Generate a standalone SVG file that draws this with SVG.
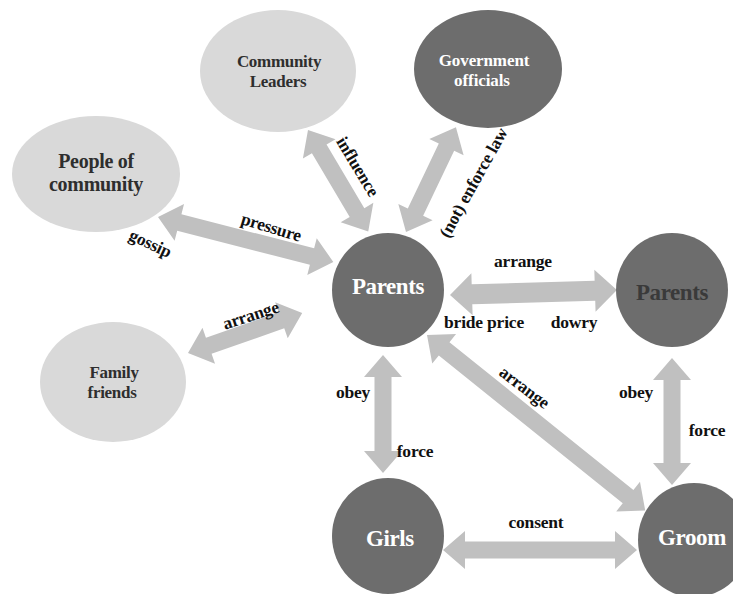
<svg xmlns="http://www.w3.org/2000/svg" width="733" height="594" viewBox="0 0 733 594" font-family="'Liberation Serif', serif">
<style>
.light{fill:#d9d9d9}
.dark{fill:#6d6d6d}
.arr{fill:#c0c0c0}
text{font-family:'Liberation Serif', serif;font-weight:700}
.nt{text-anchor:middle}
.lt{fill:#2e2e2e;font-size:17px;letter-spacing:-0.3px}
.wt{fill:#ffffff;font-size:23px;letter-spacing:-0.4px}
.lbl{font-size:17.5px;fill:#111;text-anchor:middle;letter-spacing:-0.2px}
</style>
<rect width="733" height="594" fill="#ffffff"/>
<g id="connectors">
<path class="arr" transform="translate(308,130) rotate(59.3)" d="M0,0 L22,-19 L22,-8.5 L96,-8.5 L96,-19 L118,0 L96,19 L96,8.5 L22,8.5 L22,19 Z"/>
<path class="arr" transform="translate(406,232) rotate(-64.5)" d="M0,0 L22,-19 L22,-8.5 L94,-8.5 L94,-19 L116,0 L94,19 L94,8.5 L22,8.5 L22,19 Z"/>
<path class="arr" transform="translate(158,217) rotate(14.4)" d="M0,0 L22,-19 L22,-8.5 L159,-8.5 L159,-19 L181,0 L159,19 L159,8.5 L22,8.5 L22,19 Z"/>
<path class="arr" transform="translate(188,353) rotate(-19.3)" d="M0,0 L22,-19 L22,-8.5 L99,-8.5 L99,-19 L121,0 L99,19 L99,8.5 L22,8.5 L22,19 Z"/>
<path class="arr" transform="translate(450,295) rotate(-1.7)" d="M0,0 L22,-21 L22,-10 L145,-10 L145,-21 L167,0 L145,21 L145,10 L22,10 L22,21 Z"/>
<path class="arr" transform="translate(383,355) rotate(90)" d="M0,0 L22,-19 L22,-8.5 L96,-8.5 L96,-19 L118,0 L96,19 L96,8.5 L22,8.5 L22,19 Z"/>
<path class="arr" transform="translate(427,335) rotate(38.8)" d="M0,0 L22,-19 L22,-8.5 L258,-8.5 L258,-19 L280,0 L258,19 L258,8.5 L22,8.5 L22,19 Z"/>
<path class="arr" transform="translate(672,358) rotate(90)" d="M0,0 L22,-19 L22,-8.5 L105,-8.5 L105,-19 L127,0 L105,19 L105,8.5 L22,8.5 L22,19 Z"/>
<path class="arr" transform="translate(443,550)" d="M0,0 L22,-19 L22,-8.5 L172,-8.5 L172,-19 L194,0 L172,19 L172,8.5 L22,8.5 L22,19 Z"/>
<text class="lbl" transform="translate(357,167) rotate(59)" y="5">influence</text>
<text class="lbl" transform="translate(474,183) rotate(-61)" y="5">(not) enforce law</text>
<text class="lbl" transform="translate(271,228) rotate(17)" y="5">pressure</text>
<text class="lbl" transform="translate(150,244) rotate(25)" y="5">gossip</text>
<text class="lbl" transform="translate(251,316) rotate(-18)" y="5">arrange</text>
<text class="lbl" x="523" y="267">arrange</text>
<text class="lbl" x="484" y="328">bride price</text>
<text class="lbl" x="574" y="328">dowry</text>
<text class="lbl" transform="translate(524,388) rotate(37)" y="5">arrange</text>
<text class="lbl" x="353" y="398">obey</text>
<text class="lbl" x="415" y="457">force</text>
<text class="lbl" x="636" y="398">obey</text>
<text class="lbl" x="707" y="436">force</text>
<text class="lbl" x="536" y="528">consent</text>
</g>
<g id="community-leaders">
<ellipse class="light" cx="278" cy="71" rx="78" ry="61"/>
<text class="nt lt" x="279" y="67">Community</text>
<text class="nt lt" x="278" y="87">Leaders</text>
</g>
<g id="government-officials">
<ellipse class="dark" cx="488" cy="69" rx="74" ry="59"/>
<text class="nt" x="484" y="66" fill="#ffffff" font-size="17" letter-spacing="-0.1">Government</text>
<text class="nt" x="482" y="86" fill="#ffffff" font-size="17" letter-spacing="-0.1">officials</text>
</g>
<g id="people-of-community">
<ellipse class="light" cx="96" cy="174" rx="84" ry="58"/>
<text class="nt" x="96" y="168" fill="#2e2e2e" font-size="20" letter-spacing="-0.3">People of</text>
<text class="nt" x="96" y="191" fill="#2e2e2e" font-size="20" letter-spacing="-0.3">community</text>
</g>
<g id="family-friends">
<ellipse class="light" cx="113" cy="382" rx="73" ry="60"/>
<text class="nt lt" x="114" y="378">Family</text>
<text class="nt lt" x="112" y="398">friends</text>
</g>
<g id="parents-left">
<ellipse class="dark" cx="388" cy="290" rx="56" ry="57"/>
<text class="nt wt" x="388" y="294">Parents</text>
</g>
<g id="parents-right">
<ellipse class="dark" cx="672" cy="290" rx="56" ry="57"/>
<text class="nt" x="672" y="300" fill="#3a3a3a" font-size="23" letter-spacing="-0.4">Parents</text>
</g>
<g id="girls">
<ellipse class="dark" cx="388" cy="536" rx="56" ry="58"/>
<text class="nt wt" x="390" y="546">Girls</text>
</g>
<g id="groom">
<ellipse class="dark" cx="694" cy="540" rx="56" ry="57"/>
<text class="nt wt" x="692" y="545">Groom</text>
</g>
</svg>
